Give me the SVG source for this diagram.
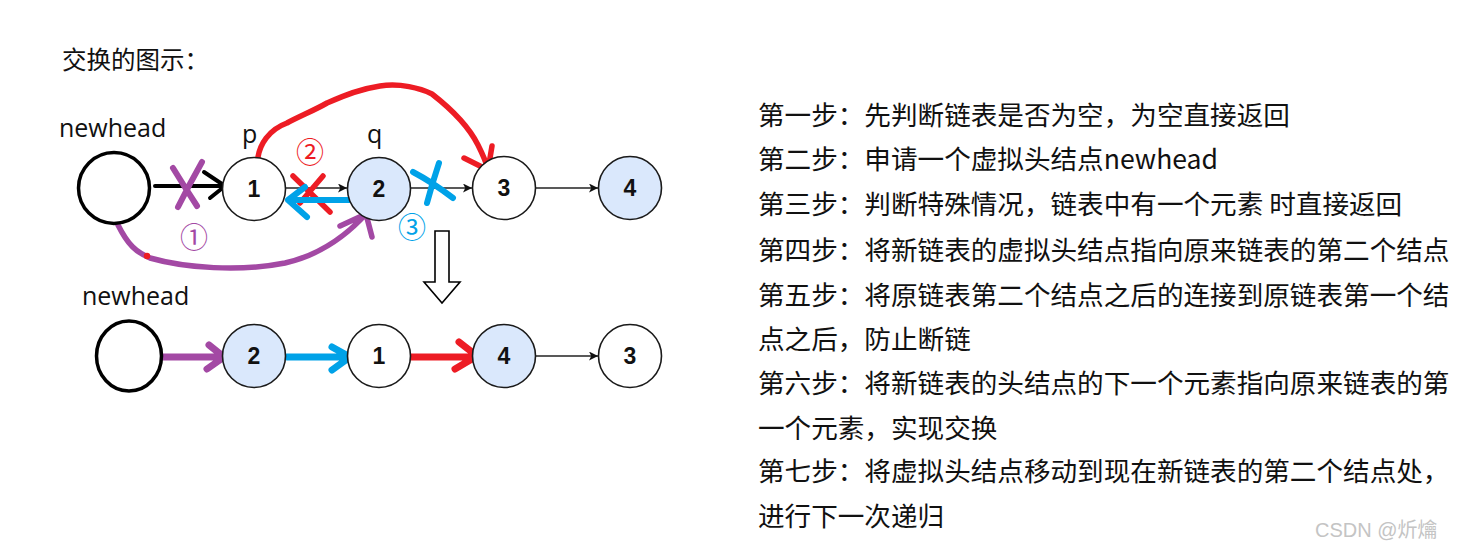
<svg xmlns="http://www.w3.org/2000/svg" width="1482" height="557" viewBox="0 0 1482 557">
<style>
.node{stroke:#1a1a1a;stroke-width:1.6;}
.w{fill:#ffffff;}
.b{fill:#dae8fc;}
.head{fill:#ffffff;stroke:#000;stroke-width:3.5;}
.num{font-family:"Liberation Sans",Arial,sans-serif;font-weight:bold;font-size:23px;text-anchor:middle;fill:#111;}
.lbl{font-family:"Open Sans","Noto Sans",sans-serif;font-size:25px;fill:#111;}
.step{font-family:"Noto Sans CJK SC","Noto Sans",sans-serif;font-size:26.6px;fill:#111;}
.thin{stroke:#222;stroke-width:1.4;fill:none;marker-end:url(#tri);}
.hd{fill:none;stroke-linecap:round;stroke-linejoin:round;}
.pur{stroke:#a349a4;}
.red{stroke:#ed1c24;}
.blu{stroke:#00a2e8;}
.blk{stroke:#000;}
.circ{font-family:"Noto Sans CJK SC",sans-serif;font-size:28px;text-anchor:middle;}
</style>
<defs>
<marker id="tri" viewBox="0 0 10 10" refX="10" refY="5" markerWidth="9" markerHeight="9" markerUnits="userSpaceOnUse" orient="auto">
<path d="M0,0 L10,5 L0,10 L2.5,5 Z" fill="#111"/>
</marker>
</defs>
<rect width="1482" height="557" fill="#ffffff"/>

<text x="62" y="69" font-family="Noto Sans CJK SC,sans-serif" font-size="24.5" fill="#111">交换的图示：</text>

<g id="labels">
<text class="lbl" x="59" y="137">newhead</text>
<text class="lbl" x="242" y="143">p</text>
<text class="lbl" x="367" y="143">q</text>
<text class="lbl" x="82" y="305">newhead</text>
</g>

<g id="connectors">
<line class="thin" x1="286" y1="188" x2="347" y2="188"/>
<line class="thin" x1="411" y1="188" x2="472" y2="188"/>
<line class="thin" x1="536" y1="188" x2="598" y2="188"/>
<line class="thin" x1="536" y1="356" x2="598" y2="356"/>

<path class="hd blk" stroke-width="4" d="M155,186 L224,186 M204,172 L225,186 L210,198"/>
<path class="hd pur" stroke-width="6" d="M173,168 Q184,186 197,206 M202,162 Q189,185 178,207"/>
<path class="hd red" stroke-width="5.5" d="M293,176 L330,212 M323,176 L300,203"/>
<path class="hd blu" stroke-width="6" d="M350,200 L288,200 M305,187 L288,200 L307,217"/>
<path class="hd blu" stroke-width="6" d="M413,172 Q432,182 453,198 M439,163 Q432,184 427,203"/>
<path class="hd red" stroke-width="5.5" d="M258,157 C260,145 268,130 287,123 C300,116 315,110 327,103 C345,95 360,89 380,86 C400,83 420,88 432,94 C450,108 468,125 478,145 C483,155 486,162 488,169 M464,158 L488,170 L492,146"/>
<path class="hd pur" stroke-width="5.5" d="M118,225 C128,245 136,252 150,258 C185,268 240,272 285,263 C320,255 345,237 366,214 M340,226 L366,214 L372,237"/>
<circle cx="147" cy="256" r="3.2" fill="#ed1c24"/>

<path class="hd pur" stroke-width="7" d="M161,357 L222,357 M209,345 L224,357 L207,369"/>
<path class="hd blu" stroke-width="7" d="M287,357 L348,357 M332,347 L350,357 L332,370"/>
<path class="hd red" stroke-width="7" d="M411,357 L474,357 M459,342 L477,356 L455,369"/>

<polygon points="435,231 449,231 449,282 460,282 442,303 424,282 435,282" fill="#fff" stroke="#000" stroke-width="1.6"/>
</g>

<g id="marks">
<text class="circ" x="194" y="248" fill="#a349a4">①</text>
<text class="circ" x="310" y="163" fill="#ed1c24">②</text>
<text class="circ" x="412" y="238" fill="#00a2e8">③</text>
</g>

<g id="top-newhead"><circle class="head" cx="114" cy="188" r="35.5"/></g>
<g id="top-n1"><circle class="node w" cx="254" cy="189" r="31.5"/><text class="num" x="254" y="197">1</text></g>
<g id="top-n2"><circle class="node b" cx="379" cy="189" r="31.5"/><text class="num" x="379" y="197">2</text></g>
<g id="top-n3"><circle class="node w" cx="504" cy="188" r="31.5"/><text class="num" x="504" y="196">3</text></g>
<g id="top-n4"><circle class="node b" cx="630" cy="188" r="31.5"/><text class="num" x="630" y="196">4</text></g>

<g id="bot-newhead"><ellipse class="head" cx="129" cy="356" rx="32.5" ry="35"/></g>
<g id="bot-n2"><circle class="node b" cx="254" cy="356" r="31.5"/><text class="num" x="254" y="364">2</text></g>
<g id="bot-n1"><circle class="node w" cx="379" cy="356" r="31.5"/><text class="num" x="379" y="364">1</text></g>
<g id="bot-n4"><circle class="node b" cx="504" cy="356" r="31.5"/><text class="num" x="504" y="364">4</text></g>
<g id="bot-n3"><circle class="node w" cx="630" cy="356" r="31.5"/><text class="num" x="630" y="364">3</text></g>

<g id="steps">
<text class="step" x="758" y="125">第一步：先判断链表是否为空，为空直接返回</text>
<text class="step" x="758" y="169">第二步：申请一个虚拟头结点newhead</text>
<text class="step" x="758" y="214">第三步：判断特殊情况，链表中有一个元素 时直接返回</text>
<text class="step" x="758" y="260">第四步：将新链表的虚拟头结点指向原来链表的第二个结点</text>
<text class="step" x="758" y="305">第五步：将原链表第二个结点之后的连接到原链表第一个结</text>
<text class="step" x="758" y="349">点之后，防止断链</text>
<text class="step" x="758" y="393">第六步：将新链表的头结点的下一个元素指向原来链表的第</text>
<text class="step" x="758" y="438">一个元素，实现交换</text>
<text class="step" x="758" y="481">第七步：将虚拟头结点移动到现在新链表的第二个结点处，</text>
<text class="step" x="758" y="526">进行下一次递归</text>
</g>

<text x="1315" y="537" font-family="Liberation Sans,Noto Sans CJK SC,sans-serif" font-size="20" fill="#c4c4c4">CSDN @炘爚</text>
</svg>
